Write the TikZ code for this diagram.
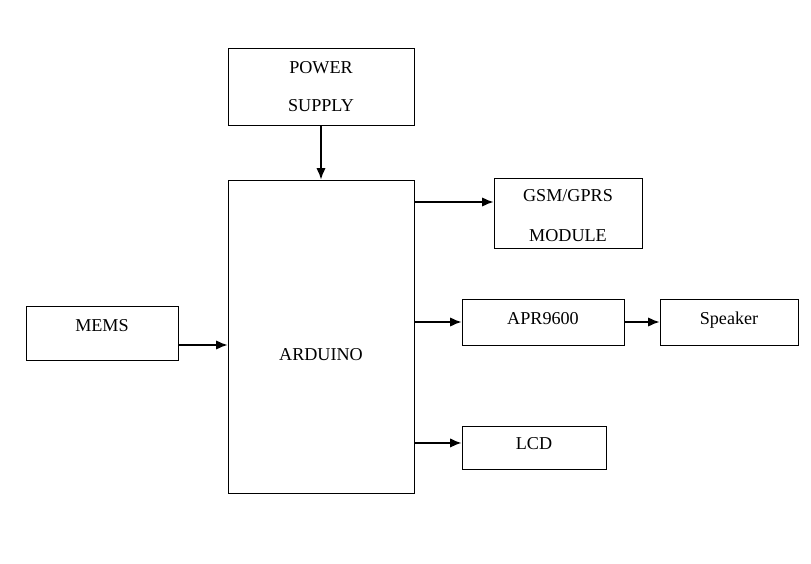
\documentclass[tikz,border=0pt]{standalone}
\usepackage{fontspec}
\setmainfont{Liberation Serif}
\usetikzlibrary{arrows.meta,positioning,calc}

\begin{document}
\begin{tikzpicture}[
  x=0.75pt, y=-0.75pt,
  box/.style={draw, line width=0.75pt, inner sep=0pt, align=center, font=\fontsize{13.6}{28.5}\selectfont},
  arrow/.style={-{Latex[length=8.5pt, width=7pt]}, line width=1.1pt}
]
\useasboundingbox (0,0) rectangle (811,564);

\node[box, minimum width=139.5pt, minimum height=57.75pt] (power) at (321, 86.5) {POWER\\SUPPLY};

\node[box, minimum width=139.5pt, minimum height=234.75pt, text height=39pt, text depth=3.75pt] (arduino) at (321, 336.5) {ARDUINO};

\node[box, minimum width=111pt, minimum height=52.5pt, font=\fontsize{13.6}{30}\selectfont] (gsm) at (568, 213) {\rule{0pt}{13pt}GSM/GPRS\\MODULE};

\node[box, minimum width=121.5pt, minimum height=34.5pt, text height=10.5pt, text depth=7.5pt] (apr) at (543, 322) {APR9600};

\node[box, minimum width=103.5pt, minimum height=34.5pt, text height=10.5pt, text depth=7.5pt] (speaker) at (729, 322) {Speaker};

\node[box, minimum width=108pt, minimum height=32.25pt, text height=10.5pt, text depth=7.5pt] (lcd) at (534, 447.5) {LCD};

\node[box, minimum width=114pt, minimum height=40.5pt, text height=10.5pt, text depth=13.5pt] (mems) at (102, 333) {MEMS};

\coordinate (gsmin) at ([yshift=8.25pt]gsm.west);
\coordinate (lcdin) at ([yshift=3.4pt]lcd.west);
\coordinate (memsout) at ([yshift=-9pt]mems.east);

\draw[arrow] (power.south) -- (arduino.north);
\draw[arrow] (arduino.east |- gsmin) -- (gsmin);
\draw[arrow] (arduino.east |- apr.west) -- (apr.west);
\draw[arrow] (apr.east) -- (speaker.west);
\draw[arrow] (arduino.east |- lcdin) -- (lcdin);
\draw[arrow] (memsout) -- (memsout -| arduino.west);

\end{tikzpicture}
\end{document}
